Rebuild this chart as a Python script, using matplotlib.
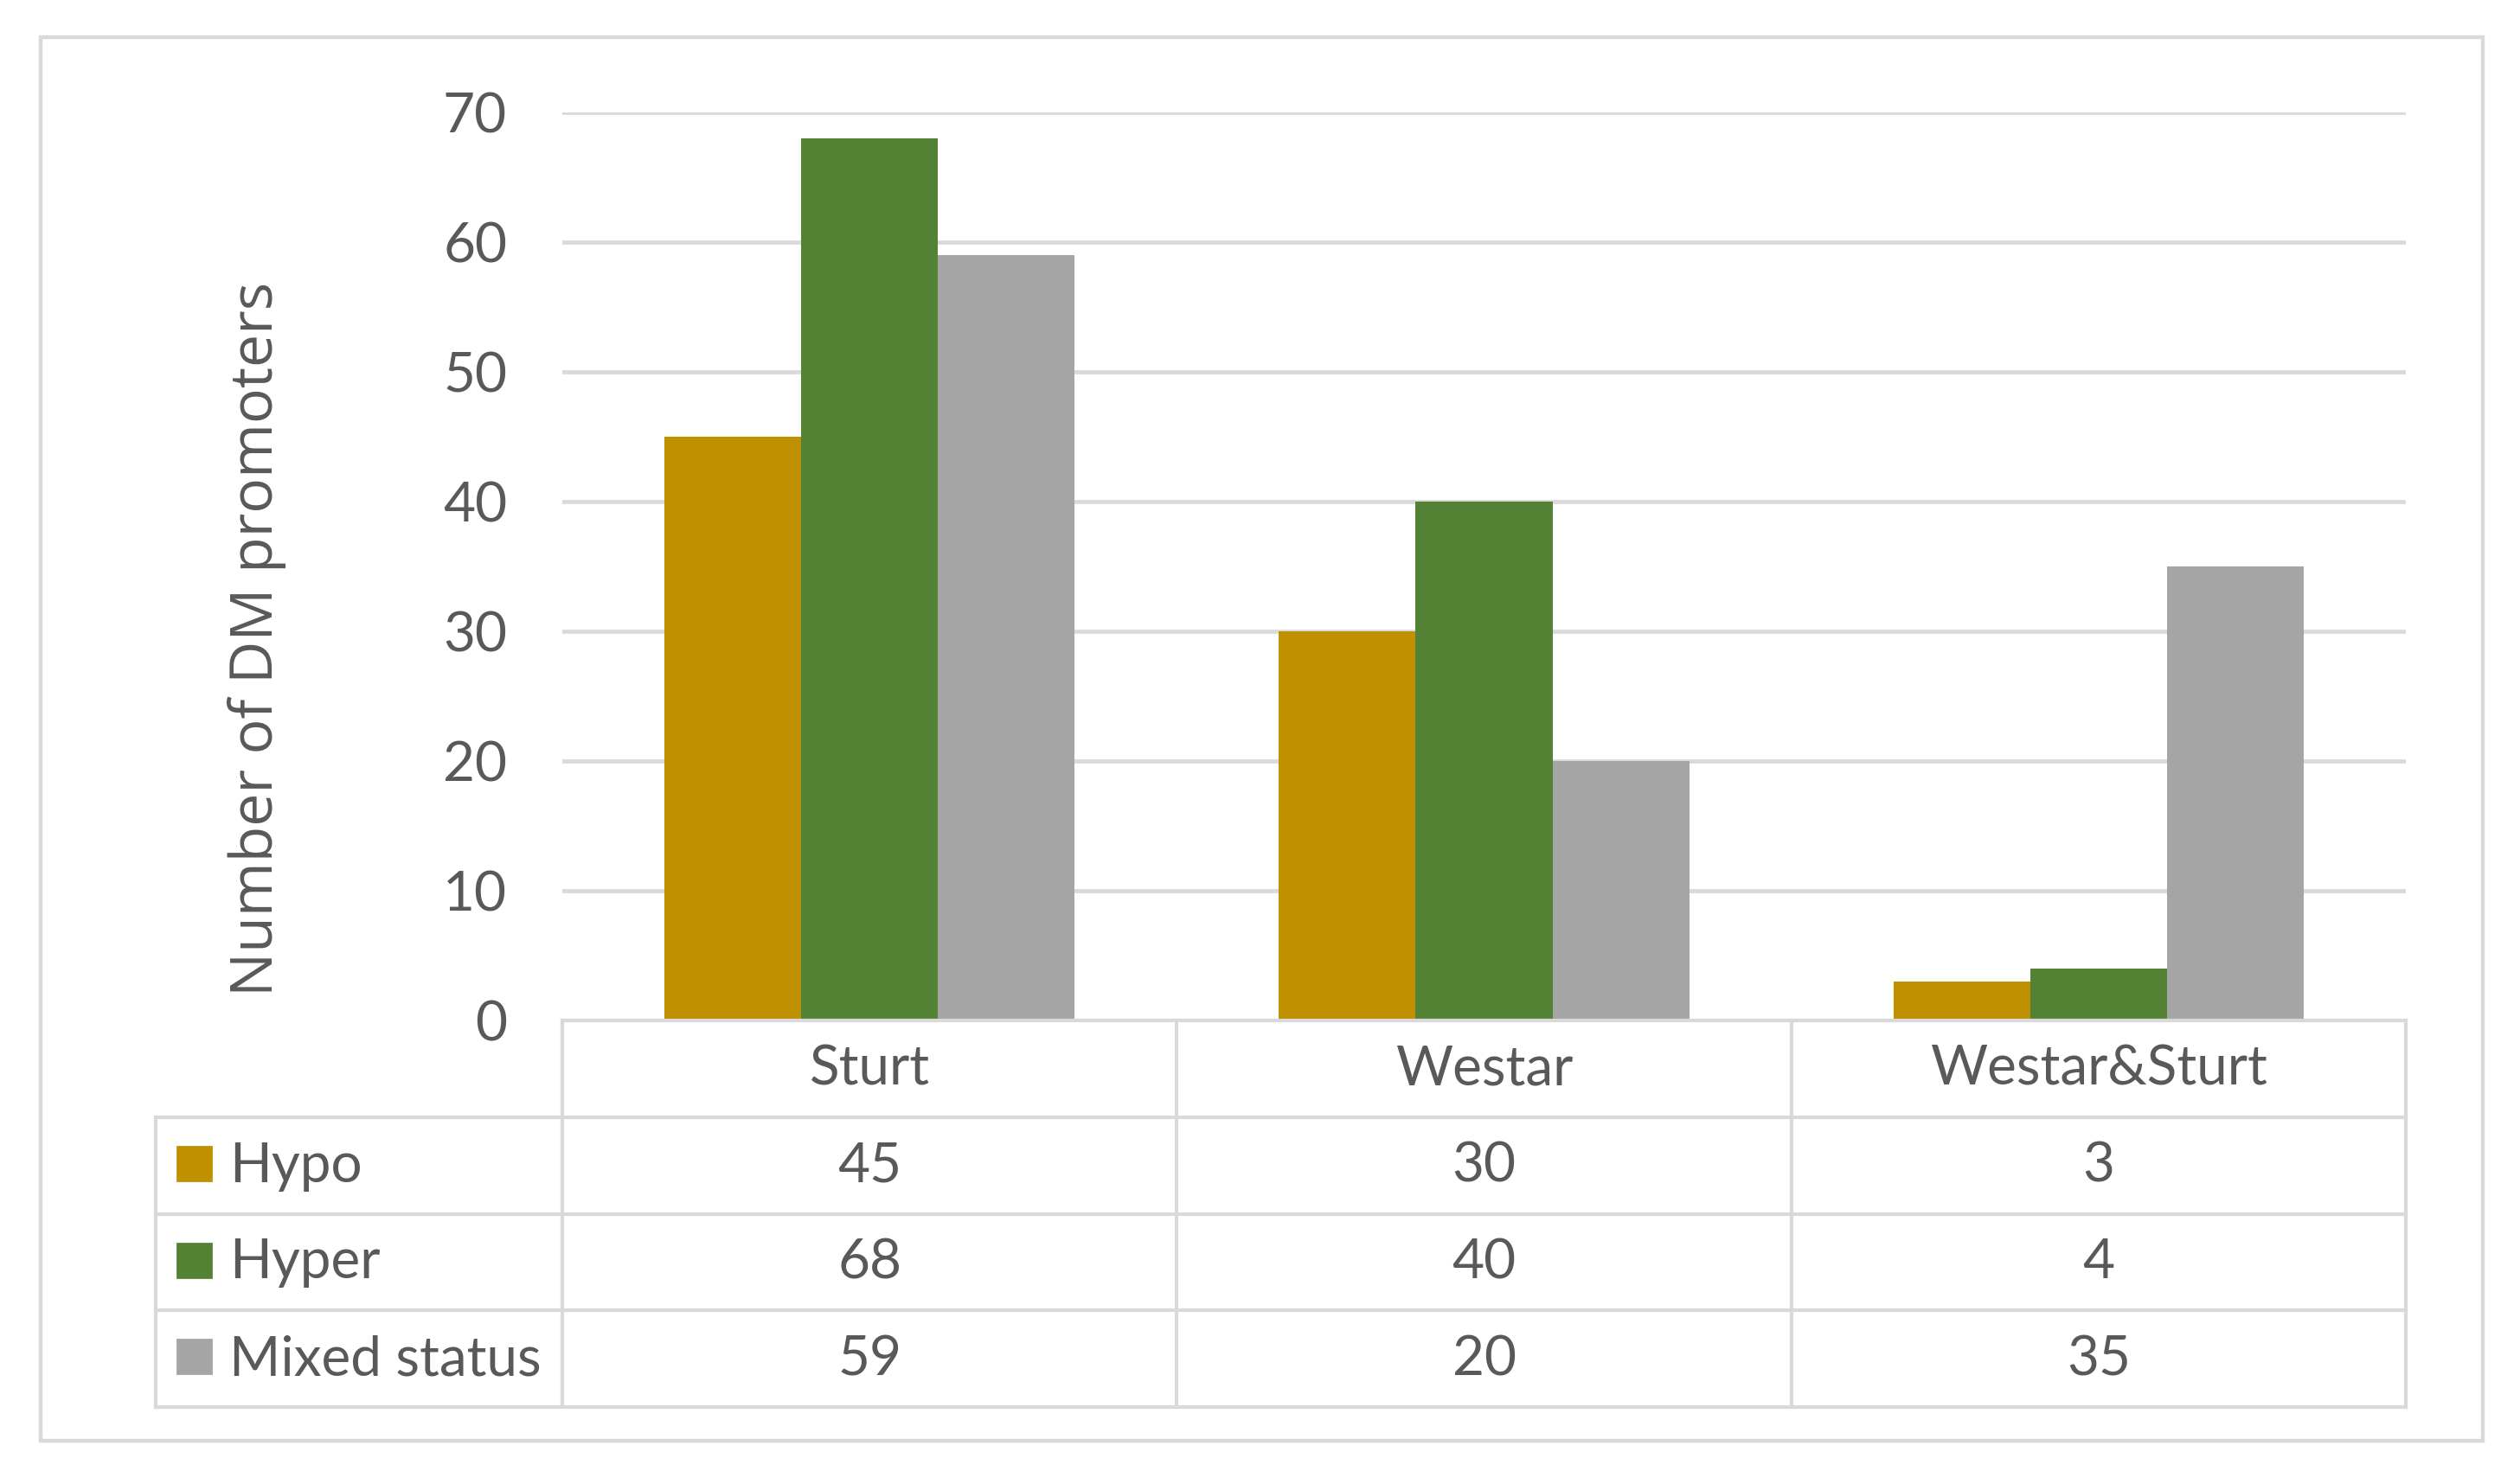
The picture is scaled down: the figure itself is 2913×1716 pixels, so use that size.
import matplotlib
matplotlib.use('Agg')
import matplotlib.pyplot as plt
from matplotlib.patches import Rectangle
import numpy as np

# data
categories = ['Sturt', 'Westar', 'Westar&Sturt']
series_names = ['Hypo', 'Hyper', 'Mixed status']
hypo = [45, 30, 3]
hyper = [68, 40, 4]
mixed = [59, 20, 35]
y_ticks = [0, 10, 20, 30, 40, 50, 60, 70]

colors = ['#BF9000', '#548235', '#A5A5A5']
text_color = '#595959'
line_color = '#D9D9D9'

W, H = 2913, 1716
DPI = 200
fig = plt.figure(figsize=(W / DPI, H / DPI), dpi=DPI)
fig.patch.set_facecolor('white')

main_font = 'Lato'
fs = 23

# outer chart border
fig.add_artist(Rectangle((47 / W, 1 - 1666 / H), (2870 - 47) / W, (1666 - 43) / H,
                         transform=fig.transFigure, fill=False,
                         edgecolor=line_color, lw=1.6))

# plot area (pixel positions of the reference)
left, right, top, bottom = 650, 2781, 130, 1180
ax = fig.add_axes([left / W, 1 - bottom / H, (right - left) / W, (bottom - top) / H])

x = np.arange(len(categories))
bw = 0.2225
all_series = [hypo, hyper, mixed]
for i, vals in enumerate(all_series):
    ax.bar(x + (i - 1) * bw, vals, width=bw, color=colors[i], zorder=3)

ax.set_xlim(-0.5, len(categories) - 0.5)
ax.set_ylim(0, 70)
ax.set_yticks(y_ticks)
ax.set_yticklabels([str(t) for t in y_ticks], fontsize=fs, color=text_color,
                   family=main_font)
ax.tick_params(axis='y', length=0, pad=23)
ax.set_xticks([])
for s in ax.spines.values():
    s.set_visible(False)
ax.yaxis.grid(True, color=line_color, lw=1.7, zorder=0)
ax.set_axisbelow(True)

fig.text(315 / W, 1 - 739 / H, 'Number of DM promoters', rotation=90,
         rotation_mode='anchor', ha='center', va='baseline',
         fontsize=24.5, color=text_color, family='Open Sans')

# data table under the plot
tab_left, tab_bottom = 180, 1627
units_per_px = len(categories) / (right - left)
x_left = -0.5 - (left - tab_left) * units_per_px
tab = fig.add_axes([tab_left / W, 1 - tab_bottom / H, (right - tab_left) / W,
                    (tab_bottom - bottom) / H])
nrows = len(series_names) + 1
tab.set_xlim(x_left, len(categories) - 0.5)
tab.set_ylim(nrows, 0)
tab.axis('off')

lw_t = 1.5
tab.plot([-0.5, len(categories) - 0.5], [0, 0], color=line_color, lw=lw_t, clip_on=False)
for r in range(1, nrows + 1):
    tab.plot([x_left, len(categories) - 0.5], [r, r], color=line_color, lw=lw_t,
             clip_on=False)
for c in range(len(categories) + 1):
    tab.plot([c - 0.5, c - 0.5], [0, nrows], color=line_color, lw=lw_t, clip_on=False)
tab.plot([x_left, x_left], [1, nrows], color=line_color, lw=lw_t, clip_on=False)

base = 0.67
for c, name in enumerate(categories):
    tab.text(c, base, name, ha='center', va='baseline', fontsize=fs,
             color=text_color, family=main_font)

sq_w = 39 * units_per_px
sq_h = 39 / ((tab_bottom - bottom) / nrows)
sq_x = x_left + 25 * units_per_px
for r, (name, vals) in enumerate(zip(series_names, all_series), start=1):
    tab.add_patch(Rectangle((sq_x, r + 0.5 - sq_h / 2 - 0.02), sq_w, sq_h,
                            color=colors[r - 1], clip_on=False))
    tab.text(x_left + 85 * units_per_px, r + base, name, ha='left', va='baseline',
             fontsize=fs, color=text_color, family=main_font)
    for c, v in enumerate(vals):
        tab.text(c, r + base, str(v), ha='center', va='baseline', fontsize=fs,
                 color=text_color, family=main_font)

fig.savefig('out.png', dpi=DPI)
